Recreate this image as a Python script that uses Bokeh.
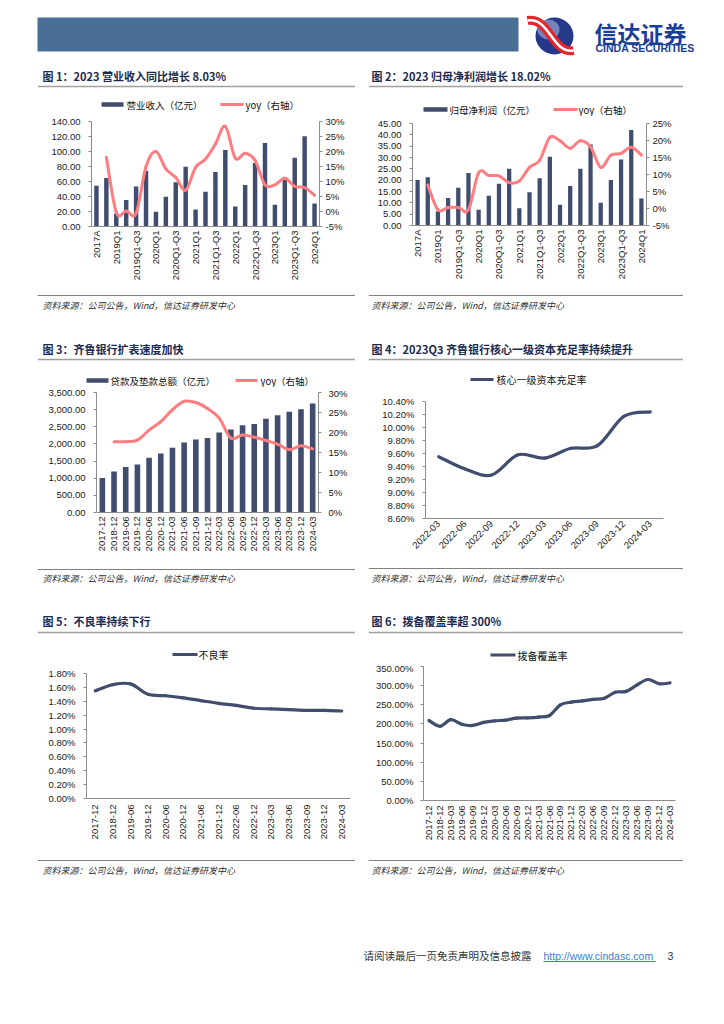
import math
from bokeh.plotting import figure
from bokeh.models import (Range1d, LinearAxis, FixedTicker, ColumnDataSource, Spacer,
                          PrintfTickFormatter, NumeralTickFormatter)
from bokeh.layouts import column, row
from bokeh.core.properties import value
from bokeh.embed import file_html
from bokeh.resources import INLINE

# ---------------- data ----------------
rev_cats = ["2017A", "2018A", "2019Q1", "2019H1", "2019Q1-Q3", "2019A", "2020Q1", "2020H1",
            "2020Q1-Q3", "2020A", "2021Q1", "2021H1", "2021Q1-Q3", "2021A", "2022Q1", "2022H1",
            "2022Q1-Q3", "2022A", "2023Q1", "2023H1", "2023Q1-Q3", "2023A", "2024Q1"]
revenue = [54.4, 64.6, 17.0, 35.2, 53.5, 74.5, 19.6, 39.7, 58.9, 79.8, 22.7, 46.4, 72.7, 102.0,
           26.7, 55.3, 84.7, 111.3, 29.0, 62.0, 91.8, 120.2, 30.8]
revenue_yoy = [None, 18.1, -0.3, 0.2, -0.6, 15.0, 20.0, 14.2, 11.3, 7.1, 14.7, 17.5, 22.5, 28.4,
               17.8, 19.4, 17.0, 8.9, 8.9, 11.1, 8.4, 8.0, 5.4]

profit = [20.1, 21.3, 6.3, 12.1, 16.6, 23.2, 6.9, 13.1, 18.4, 25.0, 7.6, 14.7, 20.9, 30.3,
          9.1, 17.4, 25.0, 35.7, 10.0, 20.1, 29.1, 42.1, 11.9]
profit_yoy = [None, 6.9, -0.4, 0.3, 0.3, -0.4, 10.5, 9.7, 9.6, 7.6, 8.1, 12.1, 14.2, 20.9,
              19.9, 17.7, 19.9, 18.1, 12.1, 15.7, 16.2, 18.0, 15.7]

loan_cats = ["2017-12", "2018-12", "2019-06", "2019-12", "2020-06", "2020-12", "2021-03",
             "2021-06", "2021-09", "2021-12", "2022-03", "2022-06", "2022-09", "2022-12",
             "2023-03", "2023-06", "2023-09", "2023-12", "2024-03"]
loans = [1006, 1199, 1325, 1402, 1596, 1721, 1886, 2041, 2128, 2176, 2331, 2418, 2544, 2582,
         2737, 2834, 2940, 3008, 3182]
loan_yoy = [None, 17.7, 17.7, 18.1, 20.6, 22.7, 25.7, 27.8, 27.5, 26.0, 23.6, 18.6, 19.4, 18.8,
            18.0, 17.1, 15.7, 16.7, 15.9]

cet1_cats = ["2022-03", "2022-06", "2022-09", "2022-12", "2023-03", "2023-06", "2023-09",
             "2023-12", "2024-03"]
cet1 = [9.55, 9.36, 9.27, 9.58, 9.53, 9.68, 9.72, 10.17, 10.24]

npl_cats = ["2017-12", "2018-12", "2019-06", "2019-12", "2020-06", "2020-12", "2021-06",
            "2021-12", "2022-06", "2022-12", "2023-03", "2023-06", "2023-09", "2023-12", "2024-03"]
npl = [1.55, 1.64, 1.65, 1.50, 1.48, 1.45, 1.41, 1.37, 1.34, 1.30, 1.29, 1.28, 1.27, 1.27, 1.26]

pcr_cats = ["2017-12", "2018-12", "2019-03", "2019-06", "2019-09", "2019-12", "2020-03",
            "2020-06", "2020-09", "2020-12", "2021-03", "2021-06", "2021-09", "2021-12",
            "2022-03", "2022-06", "2022-09", "2022-12", "2023-03", "2023-06", "2023-09",
            "2023-12", "2024-03"]
pcr = [209, 194, 211, 199, 196, 204, 208, 210, 215, 216, 218, 222, 250, 257, 260, 264, 267,
       283, 285, 302, 316, 305, 307]

# ---------------- styles ----------------
CJK = "Noto Sans CJK SC"
LAT = "Liberation Sans"
BAR = "#414D6E"
SALMON = "#FF7C80"
TITLE_C = "#1B2A50"
SRC_TEXT = "资料来源：公司公告，Wind，信达证券研发中心"


def no_align(p):
    try:
        p.frame_align = False
    except Exception:
        pass
    return p


def blank(W, H):
    p = figure(width=W, height=H, x_range=Range1d(0, W), y_range=Range1d(H, 0),
               toolbar_location=None, output_backend="svg", min_border=0,
               x_axis_type=None, y_axis_type=None)
    p.outline_line_color = None
    p.background_fill_color = "white"
    p.border_fill_color = "white"
    return no_align(p)


def top_strip(W, H, title, ty, ly, gy, items, tx, fs):
    p = blank(W, H)
    p.text(x=[tx], y=[ty], text=[title], text_font=value(CJK), text_font_size=value("11px"),
           text_font_style="bold", text_color=TITLE_C, text_baseline="middle", text_align="left")
    p.segment(x0=[0], y0=[ly], x1=[W], y1=[ly], line_color="#A0A0A0", line_width=1.6)
    for kind, a, b, tx2, label, col in items:
        if kind == "bar":
            p.quad(left=[a], right=[b], top=[gy - 2.2], bottom=[gy + 2.2], fill_color=col,
                   line_color=None)
        else:
            p.segment(x0=[a], y0=[gy], x1=[b], y1=[gy], line_color=col, line_width=3)
        p.text(x=[tx2], y=[gy], text=[label], text_font=value(CJK), text_font_size=value(fs),
               text_color="#111111", text_baseline="middle", text_align="left")
    return p


def src_strip(W, H, ly, ty, tx):
    p = blank(W, H)
    p.segment(x0=[0], y0=[ly], x1=[W], y1=[ly], line_color="#808080", line_width=1)
    p.text(x=[tx], y=[ty], text=[SRC_TEXT], text_font=value(CJK), text_font_size=value("9px"),
           text_font_style="italic", text_color="#303030", text_baseline="middle",
           text_align="left")
    return p


def style_axis(ax, standoff, tick_out=3):
    ax.axis_line_color = "#8C8C8C"
    ax.major_tick_line_color = "#8C8C8C" if tick_out else None
    ax.major_tick_in = 0
    ax.major_tick_out = tick_out
    ax.minor_tick_line_color = None
    ax.major_label_text_font = LAT
    ax.major_label_text_font_size = "9.5px"
    ax.major_label_text_color = "#1A1A1A"
    ax.major_label_standoff = standoff


def chart(W, H, L, R, T, B, xr, yr):
    p = figure(width=W, height=H, x_range=Range1d(*xr), y_range=Range1d(*yr),
               toolbar_location=None, output_backend="svg", min_border_left=L,
               min_border_right=R, min_border_top=T, min_border_bottom=B)
    p.outline_line_color = None
    p.xgrid.visible = False
    p.ygrid.visible = False
    p.background_fill_color = "white"
    p.border_fill_color = "white"
    return no_align(p)


def set_x(p, cats, step, orient, standoff):
    ticks = list(range(0, len(cats), step))
    p.xaxis.ticker = FixedTicker(ticks=ticks)
    p.xaxis.major_label_overrides = {i: cats[i] for i in ticks}
    p.xaxis.major_label_orientation = orient
    style_axis(p.xaxis[0], standoff, tick_out=0)


def smooth_src(xs, ys):
    pts = [(x, y) for x, y in zip(xs, ys) if y is not None]
    n = len(pts)
    d = dict(x0=[], y0=[], x1=[], y1=[], cx0=[], cy0=[], cx1=[], cy1=[])
    for i in range(n - 1):
        pa = pts[max(i - 1, 0)]
        p0 = pts[i]
        p1 = pts[i + 1]
        pb = pts[min(i + 2, n - 1)]
        d["x0"].append(p0[0]); d["y0"].append(p0[1])
        d["x1"].append(p1[0]); d["y1"].append(p1[1])
        d["cx0"].append(p0[0] + (p1[0] - pa[0]) / 6.0)
        d["cy0"].append(p0[1] + (p1[1] - pa[1]) / 6.0)
        d["cx1"].append(p1[0] - (pb[0] - p0[0]) / 6.0)
        d["cy1"].append(p1[1] - (pb[1] - p0[1]) / 6.0)
    return ColumnDataSource(d)


def draw_smooth(p, xs, ys, color, width, **kw):
    src = smooth_src(xs, ys)
    p.bezier(x0="x0", y0="y0", x1="x1", y1="y1", cx0="cx0", cy0="cy0", cx1="cx1", cy1="cy1",
             source=src, line_color=color, line_width=width, line_cap="round", **kw)


def bar_line_chart(W, H, L, R, T, B, cats, bars, yoy, ymax, yticks, yfmt, rr, rticks,
                   lstand, rstand, barw):
    n = len(cats)
    idx = list(range(n))
    p = chart(W, H, L, R, T, B, (-0.5, n - 0.5), (0, ymax))
    p.extra_y_ranges = {"yoy": Range1d(*rr)}
    p.add_layout(LinearAxis(y_range_name="yoy"), "right")
    p.yaxis[0].ticker = FixedTicker(ticks=yticks)
    p.yaxis[0].formatter = NumeralTickFormatter(format=yfmt)
    style_axis(p.yaxis[0], lstand)
    p.yaxis[1].ticker = FixedTicker(ticks=rticks)
    p.yaxis[1].formatter = PrintfTickFormatter(format="%d%%")
    style_axis(p.yaxis[1], rstand)
    p.vbar(x=idx, top=bars, width=barw, fill_color=BAR, line_color=None)
    draw_smooth(p, idx, yoy, SALMON, 3, y_range_name="yoy")
    return p


def line_chart(W, H, L, R, T, B, cats, vals, yr, yticks, yfmt, lstand, orient, xstand):
    n = len(cats)
    idx = list(range(n))
    p = chart(W, H, L, R, T, B, (-0.5, n - 0.5), yr)
    p.yaxis[0].ticker = FixedTicker(ticks=yticks)
    p.yaxis[0].formatter = PrintfTickFormatter(format=yfmt)
    style_axis(p.yaxis[0], lstand)
    set_x(p, cats, 1, orient, xstand)
    draw_smooth(p, idx, vals, BAR, 3.2)
    return p


LW, RW = 318, 315
V = math.pi / 2

# Chart 1
s1 = top_strip(LW, 52, "图 1：2023 营业收入同比增长 8.03%", 15, 26, 44,
               [("bar", 64, 86, 89, "营业收入（亿元）", BAR),
                ("line", 183, 206, 208, "yoy（右轴）", SALMON)], 5, "9.5px")
c1 = bar_line_chart(LW, 178, 54, 36, 9, 64, rev_cats, revenue, revenue_yoy, 140,
                    list(range(0, 141, 20)), "0.00", (-5, 30), list(range(-5, 31, 5)), 8, 3, 0.45)
set_x(c1, rev_cats, 2, V, 4)
f1 = src_strip(LW, 30, 5, 15, 5)

# Chart 2
s2 = top_strip(RW, 56, "图 2：2023 归母净利润增长 18.02%", 15, 26, 49,
               [("bar", 55, 79, 81, "归母净利润（亿元）", BAR),
                ("line", 185, 209, 210, "yoy（右轴）", SALMON)], 3, "9.5px")
c2 = bar_line_chart(RW, 174, 44, 37, 7, 65, rev_cats, profit, profit_yoy, 45,
                    list(range(0, 46, 5)), "0.00", (-5, 25), list(range(-5, 26, 5)), 8, 3, 0.42)
set_x(c2, rev_cats, 2, V, 4)
f2 = src_strip(RW, 30, 5, 15, 3)

# Chart 3
s3 = top_strip(LW, 67, "图 3：齐鲁银行扩表速度加快", 28, 39, 60,
               [("bar", 49, 71, 73, "贷款及垫款总额（亿元）", BAR),
                ("line", 198, 220, 223, "yoy（右轴）", SALMON)], 5, "9.5px")
c3 = bar_line_chart(LW, 178, 59, 37, 5, 53, loan_cats, loans, loan_yoy, 3500,
                    list(range(0, 3501, 500)), "0,0.00", (0, 30), list(range(0, 31, 5)), 8, 7, 0.48)
set_x(c3, loan_cats, 1, V, 4)
f3 = src_strip(LW, 25, 4, 13, 5)

# Chart 4
s4 = top_strip(RW, 70, "图 4：2023Q3 齐鲁银行核心一级资本充足率持续提升", 28, 39, 59,
               [("line", 102, 125, 128, "核心一级资本充足率", BAR)], 3, "10px")
c4 = line_chart(RW, 175, 57, 20, 11, 47, cet1_cats, cet1, (8.6, 10.4),
                [round(8.6 + 0.2 * i, 2) for i in range(10)], "%.2f%%", 8, math.pi / 4, 4)
f4 = src_strip(RW, 25, 3, 13, 3)

# Chart 5
s5 = top_strip(LW, 73, "图 5：不良率持续下行", 30, 42, 64,
               [("line", 135, 160, 161, "不良率", BAR)], 5, "10px")
c5 = line_chart(LW, 192, 49, 5, 10, 57, npl_cats, npl, (0, 1.8),
                [round(0.2 * i, 2) for i in range(10)], "%.2f%%", 8, V, 6)
f5 = src_strip(LW, 30, 5, 15, 5)

# Chart 6
s6 = top_strip(RW, 72, "图 6：拨备覆盖率超 300%", 30, 42, 64.5,
               [("line", 122, 147, 149, "拨备覆盖率", BAR)], 3, "10px")
c6 = line_chart(RW, 193, 55, 8, 4, 55, pcr_cats, pcr, (0, 350),
                list(range(0, 351, 50)), "%.2f%%", 7, V, 5)
f6 = src_strip(RW, 30, 5, 15, 3)

# Header
hdr = blank(708, 52)
hdr.quad(left=[29], right=[510], top=[9], bottom=[43], fill_color="#4A6F96", line_color=None)
hdr.ellipse(x=[546], y=[27.5], width=[38], height=[37], fill_color="#25388A", line_color=None)
hdr.ellipse(x=[540], y=[21], width=[22], height=[20], fill_color="#B9C0E2", fill_alpha=0.55,
            line_color=None)
hdr.bezier(x0=[519], y0=[12], x1=[565], y1=[42], cx0=[541], cy0=[8], cx1=[544], cy1=[46],
           line_color="#E3262B", line_width=9)
hdr.bezier(x0=[519], y0=[12], x1=[565], y1=[42], cx0=[541], cy0=[8], cx1=[544], cy1=[46],
           line_color="white", line_width=2.5)
hdr.text(x=[586], y=[24], text=["信达证券"], text_font=value(CJK), text_font_size=value("23px"),
         text_font_style="bold", text_color="#1A3E96", text_baseline="middle", text_align="left")
hdr.text(x=[587], y=[39], text=["CINDA SECURITIES"], text_font=value(LAT),
         text_font_size=value("10.5px"), text_font_style="bold", text_color="#1A3E96",
         text_baseline="middle", text_align="left")

# Footer
ftr = blank(708, 90)
ftr.text(x=[355], y=[70], text=["请阅读最后一页免责声明及信息披露"], text_font=value(CJK),
         text_font_size=value("10.5px"), text_color="#333333", text_baseline="middle",
         text_align="left")
ftr.text(x=[535], y=[70], text=["http://www.cindasc.com"], text_font=value(LAT),
         text_font_size=value("10.5px"), text_color="#3C7CD8", text_baseline="middle",
         text_align="left")
ftr.segment(x0=[535], y0=[76], x1=[647], y1=[76], line_color="#3C7CD8", line_width=1)
ftr.text(x=[659], y=[70], text=["3"], text_font=value(LAT), text_font_size=value("10.5px"),
         text_color="#333333", text_baseline="middle", text_align="left")

row1 = row(Spacer(width=29, height=260), column(s1, c1, f1), Spacer(width=13, height=260),
           column(s2, c2, f2))
row2 = row(Spacer(width=29, height=270), column(s3, c3, f3), Spacer(width=13, height=270),
           column(s4, c4, f4))
row3 = row(Spacer(width=29, height=295), column(s5, c5, f5), Spacer(width=13, height=295),
           column(s6, c6, f6))
body = column(hdr, row1, row2, row3, ftr)
page = column(Spacer(width=716, height=8), row(Spacer(width=8, height=967), body))

with open("out.html", "w", encoding="utf-8") as fh:
    fh.write(file_html(page, INLINE))
